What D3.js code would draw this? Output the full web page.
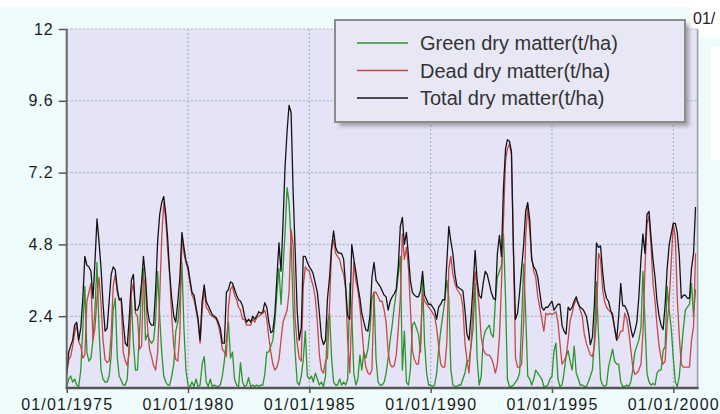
<!DOCTYPE html>
<html>
<head>
<meta charset="utf-8">
<title>Dry matter</title>
<script src="https://cdn.jsdelivr.net/npm/d3@7"></script>
<style>
  body { margin: 0; background: #effcfc; }
  svg { display: block; font-family: "Liberation Sans", Arial, sans-serif; }
</style>
</head>
<body>
<script>

// monthly values, Jan 1975 .. Dec 2000 (one row per year)
var startYear = 1975;
var tickYears = [1975, 1980, 1985, 1990, 1995, 2000];
var yTicks = [2.4, 4.8, 7.2, 9.6, 12];
var seriesNames = ["Green dry matter(t/ha)", "Dead dry matter(t/ha)", "Total dry matter(t/ha)"];
var seriesColors = ["#2a962a", "#c64848", "#151515"];

var greenDM = [
  0.05,0.3,0.4,0.2,0.3,0.1,0.05,0.6,2.0,3.4,1.2,0.9,
  1.0,1.6,2.6,4.2,2.0,0.6,0.3,0.2,0.2,0.4,1.1,2.6,
  3.0,1.0,0.4,0.25,0.1,0.1,0.3,1.6,2.95,1.5,0.6,0.6,
  1.85,3.4,4.0,1.6,1.8,1.6,1.5,1.6,2.3,3.9,2.4,1.2,
  0.4,0.2,0.1,0.1,0.4,0.8,1.9,2.2,3.0,4.2,2.0,0.6,
  0.1,0.05,0.2,0.05,0.3,0.05,0.1,0.8,1.05,0.2,0.05,0.3,
  0.05,0.1,0.05,0.05,0.1,0.4,0.9,1.6,2.2,1.0,1.2,0.3,
  0.1,0.05,0.85,0.2,0.05,0.1,0.35,0.05,0.1,0.05,0.1,0.05,
  0.1,0.1,0.45,1.2,1.2,1.4,1.6,2.2,3.2,4.0,2.8,4.0,
  5.2,6.7,6.2,4.9,2.7,1.2,0.2,0.1,0.4,0.95,1.9,0.4,
  0.3,0.4,0.2,0.5,0.3,0.1,0.2,0.05,0.4,2.2,2.5,1.0,
  0.2,0.1,0.1,0.3,0.1,0.2,0.1,0.3,3.5,2.5,0.5,0.1,
  0.3,1.1,0.6,1.2,1.0,1.3,1.9,3.0,3.2,1.0,0.2,0.1,
  0.1,0.2,0.5,1.0,1.6,2.1,2.7,3.2,3.8,4.4,0.6,1.9,
  0.2,0.1,0.6,2.1,2.2,2.0,1.8,1.2,3.6,1.5,0.5,0.1,
  0.1,0.05,0.1,0.5,1.3,1.9,2.4,2.9,3.6,3.0,0.6,0.1,
  0.05,0.05,0.1,0.1,0.3,0.5,0.9,0.9,1.4,2.0,3.5,1.0,
  0.1,0.4,1.6,1.9,2.0,2.1,1.8,1.7,2.9,3.7,3.9,4.1,
  5.15,3.0,0.3,0.05,0.05,0.1,0.2,0.3,0.5,2.2,4.15,2.5,
  0.4,0.3,0.1,0.3,0.6,0.5,0.4,0.3,0.05,0.05,0.1,0.3,
  0.4,1.25,1.5,0.3,0.05,0.1,0.5,1.05,1.25,0.9,0.6,1.4,
  0.5,0.3,0.1,0.1,0.05,0.05,0.2,0.4,0.6,1.6,3.55,1.8,
  0.3,0.1,0.05,0.1,0.7,1.0,1.3,0.9,0.8,0.8,0.2,0.05,
  0.05,0.1,0.05,0.2,0.6,1.2,1.4,1.6,2.0,3.9,2.2,0.5,
  0.2,0.1,0.15,0.1,0.5,0.6,0.6,1.25,1.4,3.4,2.6,2.0,
  1.0,0.2,0.05,0.4,1.2,2.0,2.6,2.7,2.8,3.5,2.4,3.3
];

var deadDM = [
  0.45,0.95,1.05,1.4,1.85,2.1,1.55,1.4,1.0,1.1,2.9,3.2,
  3.5,1.6,2.0,3.0,3.7,2.8,1.6,0.95,0.85,0.9,1.8,3.4,
  3.8,3.2,2.95,2.9,1.2,0.9,0.75,1.2,3.2,3.5,2.5,2.4,
  1.3,1.4,3.7,3.4,2.05,1.3,1.05,0.75,0.6,1.2,3.0,5.0,
  6.2,5.6,4.6,3.75,2.4,1.4,0.95,0.9,1.85,5.05,4.5,4.2,
  3.95,3.5,3.1,2.95,2.6,2.2,1.5,2.6,3.3,2.7,2.6,2.45,
  2.4,2.35,2.3,2.1,1.8,1.3,1.2,1.05,2.7,3.3,3.4,3.1,
  2.95,2.7,2.6,2.3,2.3,2.1,2.1,2.1,2.3,2.2,2.35,2.4,
  2.45,2.5,2.6,2.3,1.7,1.2,0.8,0.6,0.7,0.95,1.6,2.2,
  2.4,2.6,3.2,5.3,4.8,2.3,1.5,1.0,0.9,3.4,4.05,3.95,
  3.9,3.6,3.4,3.0,2.2,1.1,0.6,0.5,0.9,1.0,2.8,4.6,
  4.95,4.5,4.4,4.3,4.0,3.8,3.3,1.6,0.5,2.5,4.2,3.6,
  3.3,2.7,2.0,1.2,0.7,0.5,0.45,0.6,3.2,3.2,3.05,2.9,
  2.9,2.6,2.2,1.2,0.8,0.7,0.75,1.1,2.0,3.0,5.15,4.3,
  4.7,4.0,2.7,1.25,0.95,0.8,0.8,1.5,3.15,2.9,2.8,2.7,
  2.6,2.5,2.4,2.0,1.4,0.8,0.7,0.7,1.5,4.0,4.4,3.8,
  3.5,3.3,3.2,3.1,2.7,1.5,0.95,0.5,1.5,2.7,3.9,3.4,
  2.7,1.7,1.3,1.15,1.1,1.1,1.0,0.8,0.5,0.8,1.7,3.4,
  5.6,7.6,8.0,8.15,7.8,4.5,1.0,0.7,0.7,0.8,2.25,5.05,
  6.05,5.25,4.4,3.9,3.7,3.05,2.7,2.3,1.9,2.5,2.45,2.5,
  2.45,2.5,2.55,2.2,1.5,0.8,0.9,1.05,1.6,2.25,2.5,2.8,
  2.95,2.85,2.6,2.4,1.8,1.5,1.3,1.1,1.05,1.4,2.3,4.5,
  4.3,3.3,2.9,2.7,2.6,2.55,2.5,2.0,1.6,1.7,1.9,1.9,
  2.5,2.3,1.9,1.3,0.7,0.45,0.5,0.6,0.8,1.8,4.0,5.5,
  5.75,4.7,3.5,2.9,2.1,1.4,1.0,0.8,0.9,2.15,2.9,4.2,
  5.5,5.0,3.0,1.7,0.8,0.7,0.7,0.7,0.7,1.6,2.05,4.5
];

var totalDM = [
  0.5,1.2,1.4,1.6,2.1,2.2,1.6,2.0,3.0,4.4,4.1,4.05,
  3.9,3.0,4.2,5.65,4.9,4.0,2.8,1.9,2.0,2.9,3.8,4.05,
  3.95,3.3,2.95,3.0,2.2,1.5,1.4,2.4,3.6,3.8,2.6,2.6,
  2.8,3.5,4.4,3.7,2.6,2.2,2.1,2.1,3.3,4.9,5.8,6.2,
  6.4,5.8,5.0,3.8,3.0,2.4,2.2,2.9,3.7,5.2,4.7,4.25,
  4.05,3.6,3.2,3.1,2.7,2.3,1.6,2.9,3.45,2.9,2.75,2.6,
  2.45,2.4,2.35,2.2,2.0,1.5,1.5,3.2,3.3,3.55,3.5,3.3,
  3.1,2.95,2.9,2.75,2.4,2.2,2.3,2.2,2.4,2.3,2.4,2.55,
  2.5,2.55,2.85,2.7,2.2,1.85,1.9,2.5,3.7,4.85,3.9,5.5,
  7.4,8.6,9.45,9.2,6.6,4.6,2.6,1.6,2.0,4.4,4.4,4.2,
  4.05,3.95,3.8,3.5,3.2,2.5,1.7,1.45,1.6,3.0,3.7,4.7,
  5.25,4.7,4.55,4.5,4.5,4.3,3.4,2.4,2.3,4.8,4.3,3.9,
  3.4,3.0,2.5,2.2,1.95,1.9,2.4,3.7,4.2,3.6,3.5,3.4,
  3.25,3.1,3.05,2.6,2.9,3.05,3.15,3.3,4.1,5.4,5.7,4.8,
  5.2,4.4,3.6,3.2,3.1,3.05,3.05,3.25,3.9,3.1,2.95,2.8,
  2.8,2.7,2.6,2.3,2.7,2.8,2.95,2.95,4.2,5.4,4.9,4.5,
  3.8,3.4,3.35,3.3,3.25,2.6,1.8,1.6,2.4,3.4,4.6,3.6,
  3.1,3.0,3.5,3.9,3.8,3.5,3.2,3.0,2.95,4.5,5.1,4.4,
  6.7,8.0,8.3,8.25,7.9,4.5,2.3,2.5,3.2,4.0,4.8,5.9,
  6.2,5.6,4.3,4.05,3.95,3.7,3.2,2.7,2.6,2.7,2.7,2.8,
  2.9,2.6,2.7,2.8,2.8,2.1,1.9,1.8,2.7,2.6,2.7,2.9,
  3.05,2.8,2.7,2.65,2.55,2.4,2.0,1.45,1.7,2.8,4.85,4.7,
  4.75,3.9,3.3,3.0,2.9,2.6,2.4,2.0,1.6,2.4,3.5,2.75,
  2.75,2.6,2.4,2.0,1.7,1.9,2.2,3.05,4.3,5.15,4.5,5.8,
  5.9,5.0,4.3,3.7,2.9,2.4,2.1,1.95,2.8,4.0,4.8,5.15,
  5.5,5.5,5.2,4.4,3.0,3.1,3.1,3.0,3.0,4.0,4.5,6.05
];

var w = 720;
var h = 414;
var plotL = 66.7, plotR = 697.6, plotT = 29, plotB = 388;

var svg = d3.select("body").append("svg")
  .attr("width", w)
  .attr("height", h);

// screenshot leftovers round the chart
svg.append("rect").attr("x", 0).attr("y", 0).attr("width", 690).attr("height", 7).attr("fill", "#ffffff");
svg.append("rect").attr("x", 690).attr("y", 0).attr("width", 30).attr("height", 38).attr("fill", "#ffffff");
svg.append("rect").attr("x", 711).attr("y", 47).attr("width", 9).attr("height", 113).attr("fill", "#ffffff");
svg.append("text")
  .attr("x", 693).attr("y", 24)
  .attr("font-size", 16).attr("fill", "#222")
  .text("01/");

var x = d3.scaleUtc()
  .domain([new Date(Date.UTC(startYear, 0, 1)), new Date(Date.UTC(2001, 0, 1))])
  .range([plotL, plotR]);

var y = d3.scaleLinear()
  .domain([0, 12])
  .range([plotB, plotT]);

var dateOf = function(i) {
  return new Date(Date.UTC(startYear, i, 1));
};

// plot background
svg.append("rect")
  .attr("x", plotL)
  .attr("y", plotT)
  .attr("width", plotR - plotL)
  .attr("height", plotB - plotT)
  .attr("fill", "#e4e4f6");

// grid
var tickDates = tickYears.map(function(yr) { return new Date(Date.UTC(yr, 0, 1)); });

svg.append("g")
  .selectAll("line")
  .data(yTicks)
  .enter()
  .append("line")
  .attr("x1", plotL)
  .attr("x2", plotR)
  .attr("y1", function(d) { return y(d); })
  .attr("y2", function(d) { return y(d); })
  .attr("stroke", "#a9a9c4")
  .attr("stroke-width", 1)
  .attr("stroke-dasharray", "2,2");

svg.append("g")
  .selectAll("line")
  .data(tickDates.slice(1))
  .enter()
  .append("line")
  .attr("x1", function(d) { return x(d); })
  .attr("x2", function(d) { return x(d); })
  .attr("y1", plotT)
  .attr("y2", plotB)
  .attr("stroke", "#a9a9c4")
  .attr("stroke-width", 1)
  .attr("stroke-dasharray", "2,2");

// series
var series = [greenDM, deadDM, totalDM];

var line = d3.line()
  .x(function(d, i) { return x(dateOf(i)); })
  .y(function(d) { return y(d); });

svg.append("g")
  .selectAll("path")
  .data(series)
  .enter()
  .append("path")
  .attr("d", function(d) { return line(d); })
  .attr("fill", "none")
  .attr("stroke", function(d, i) { return seriesColors[i]; })
  .attr("stroke-width", 1.3)
  .attr("stroke-linejoin", "round");

// right border
svg.append("line")
  .attr("x1", plotR).attr("x2", plotR)
  .attr("y1", plotT).attr("y2", plotB)
  .attr("stroke", "#9a9aa8")
  .attr("stroke-width", 1.5);

// axes
var xAxis = d3.axisBottom(x)
  .tickValues(tickDates)
  .tickFormat(d3.utcFormat("%d/%m/%Y"))
  .tickSize(5)
  .tickPadding(6);

var gx = svg.append("g")
  .attr("transform", "translate(0," + plotB + ")")
  .call(xAxis);

gx.select(".domain").remove();
gx.selectAll("line").attr("stroke", "#555").attr("stroke-width", 1.5);
gx.selectAll("text")
  .attr("font-size", 16)
  .attr("font-family", "Liberation Sans, Arial, sans-serif")
  .attr("letter-spacing", "1.2px")
  .attr("fill", "#1a1a1a");

var yAxis = d3.axisLeft(y)
  .tickValues(yTicks)
  .tickFormat(d3.format(""))
  .tickSize(8)
  .tickPadding(5);

var gy = svg.append("g")
  .attr("transform", "translate(" + plotL + ",0)")
  .call(yAxis);

gy.select(".domain").remove();
gy.selectAll("line").attr("stroke", "#555").attr("stroke-width", 1.5);
gy.selectAll("text")
  .attr("font-size", 16)
  .attr("font-family", "Liberation Sans, Arial, sans-serif")
  .attr("letter-spacing", "1px")
  .attr("fill", "#1a1a1a");

svg.append("line")
  .attr("x1", plotL).attr("x2", plotL)
  .attr("y1", plotT).attr("y2", plotB + 1)
  .attr("stroke", "#666")
  .attr("stroke-width", 2);

svg.append("line")
  .attr("x1", plotL - 1).attr("x2", plotR + 1)
  .attr("y1", plotB).attr("y2", plotB)
  .attr("stroke", "#555")
  .attr("stroke-width", 2.5);

// legend
var defs = svg.append("defs");
defs.append("filter")
  .attr("id", "shadow")
  .attr("x", "-10%").attr("y", "-10%")
  .attr("width", "130%").attr("height", "140%")
  .append("feGaussianBlur")
  .attr("stdDeviation", 2);

var legend = svg.append("g")
  .attr("transform", "translate(335,20)");

legend.append("rect")
  .attr("x", 4).attr("y", 4)
  .attr("width", 350).attr("height", 102)
  .attr("fill", "#6d6d6d")
  .attr("opacity", 0.6)
  .attr("filter", "url(#shadow)");

legend.append("rect")
  .attr("width", 350).attr("height", 102)
  .attr("fill", "#e7e7f6")
  .attr("stroke", "#8c8c8c")
  .attr("stroke-width", 2);

var rows = legend.selectAll("g.row")
  .data(seriesNames)
  .enter()
  .append("g")
  .attr("class", "row")
  .attr("transform", function(d, i) { return "translate(0," + (23 + i * 27.5) + ")"; });

rows.append("line")
  .attr("x1", 22).attr("x2", 73)
  .attr("stroke", function(d, i) { return seriesColors[i]; })
  .attr("stroke-width", 1.5);

rows.append("text")
  .attr("x", 85)
  .attr("y", 7)
  .attr("font-size", 20)
  .attr("fill", "#333")
  .text(function(d) { return d; });

</script>
</body>
</html>
